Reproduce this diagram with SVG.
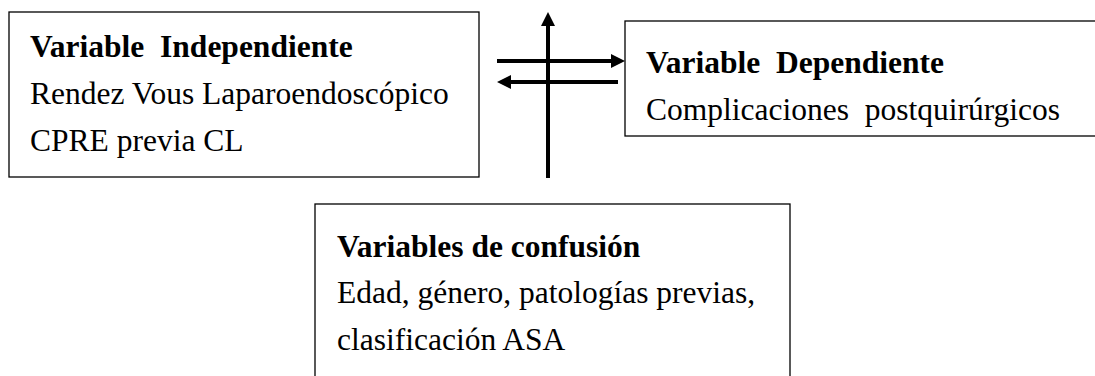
<svg xmlns="http://www.w3.org/2000/svg" width="1095" height="376" viewBox="0 0 1095 376">
<style>
.box{fill:#fff;stroke:#000;stroke-width:1.3}
.t{font-family:"Liberation Serif","Times New Roman",serif;font-size:31.5px;fill:#000}
.b{font-weight:bold}
.ln{stroke:#000;stroke-width:4;fill:none}
</style>
<defs>
<marker id="ah" viewBox="0 0 10 10" refX="0" refY="5" markerWidth="3.5" markerHeight="3.5" orient="auto" markerUnits="strokeWidth">
<path d="M0,0 L10,5 L0,10 z" fill="#000"/>
</marker>
</defs>
<rect width="1095" height="376" fill="#fff"/>
<g id="connectors">
<line class="ln" x1="548" y1="178" x2="548" y2="26" marker-end="url(#ah)"/>
<line class="ln" x1="497" y1="61" x2="611" y2="61" marker-end="url(#ah)"/>
<line class="ln" x1="618" y1="82" x2="511" y2="82" marker-end="url(#ah)"/>
</g>
<g id="independiente">
<rect class="box" x="9" y="12" width="470" height="165"/>
<text class="t b" x="30" y="57" xml:space="preserve">Variable  Independiente</text>
<text class="t" x="30" y="104">Rendez Vous Laparoendoscópico</text>
<text class="t" x="30" y="151">CPRE previa CL</text>
</g>
<g id="dependiente">
<rect class="box" x="625" y="21" width="480" height="115"/>
<text class="t b" x="646" y="73" xml:space="preserve">Variable  Dependiente</text>
<text class="t" x="646" y="120" xml:space="preserve">Complicaciones  postquirúrgicos</text>
</g>
<g id="confusion">
<rect class="box" x="315" y="204" width="475" height="190"/>
<text class="t b" x="337" y="257">Variables de confusión</text>
<text class="t" x="337" y="303">Edad, género, patologías previas,</text>
<text class="t" x="337" y="350">clasificación ASA</text>
</g>
</svg>
